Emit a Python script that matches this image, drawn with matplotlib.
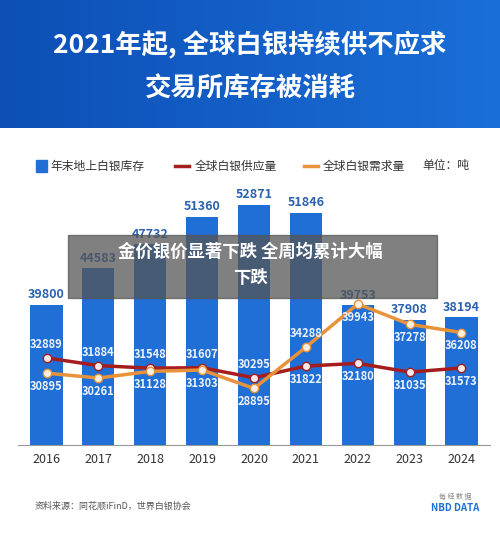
import matplotlib
matplotlib.use("Agg")
import matplotlib.pyplot as plt
from matplotlib.patches import Rectangle
from matplotlib.colors import LinearSegmentedColormap
import numpy as np

plt.rcParams['font.family'] = ['Noto Sans CJK SC', 'DejaVu Sans']

years = ['2016', '2017', '2018', '2019', '2020', '2021', '2022', '2023', '2024']
stock = [39800, 44583, 47732, 51360, 52871, 51846, 39753, 37908, 38194]
supply = [32889, 31884, 31548, 31607, 30295, 31822, 32180, 31035, 31573]
demand = [30895, 30261, 31128, 31303, 28895, 34288, 39943, 37278, 36208]
supply_pos = [1, 1, 1, 1, 1, -1, -1, -1, -1]
demand_pos = [-1, -1, -1, -1, -1, 1, -1, -1, -1]

fig = plt.figure(figsize=(5, 5.34), dpi=100)
fig.patch.set_facecolor('white')

hdr = fig.add_axes([0, 1 - 128/534, 1, 128/534])
grad = np.linspace(0, 1, 256).reshape(1, -1)
cm = LinearSegmentedColormap.from_list('h', ['#0d4fb5', '#1a6fd8'])
hdr.imshow(grad, aspect='auto', cmap=cm, extent=[0, 1, 0, 1])
hdr.set_axis_off()
hdr.text(0.5, 0.65, '2021年起, 全球白银持续供不应求', color='white', fontsize=19,
         fontweight='bold', ha='center', va='center')
hdr.text(0.5, 0.30, '交易所库存被消耗', color='white', fontsize=19,
         fontweight='bold', ha='center', va='center')

y_leg = 1 - 166/534
fig.patches.append(Rectangle((0.072, y_leg - 0.011), 0.022, 0.022, transform=fig.transFigure,
                             color='#1f6fd6'))
fig.text(0.1, y_leg, '年末地上白银库存', fontsize=8.5, va='center', color='#333333')
fig.lines.append(plt.Line2D([0.35, 0.378], [y_leg, y_leg], transform=fig.transFigure,
                            color='#a51d1d', lw=2.5))
fig.text(0.39, y_leg, '全球白银供应量', fontsize=8.5, va='center', color='#333333')
fig.lines.append(plt.Line2D([0.607, 0.635], [y_leg, y_leg], transform=fig.transFigure,
                            color='#e8923a', lw=2.5))
fig.text(0.645, y_leg, '全球白银需求量', fontsize=8.5, va='center', color='#333333')
fig.text(0.845, y_leg, '单位：吨', fontsize=8.5, va='center', color='#333333')

ax = fig.add_axes([0.036, 89/534, 0.944, 260/534])
x = np.arange(len(years))
ax.bar(x, stock, width=0.62, color='#1f6fd6', zorder=1)
ax.set_ylim(21500, 55500)
ax.set_xlim(-0.55, len(years) - 0.45)
for xi, v in zip(x, stock):
    ax.text(xi, v + 500, f'{v}', ha='center', va='bottom', fontsize=9,
            fontweight='bold', color='#2a62b0')
ax.plot(x, supply, color='#a51d1d', lw=2.5, marker='o', ms=6, mfc='#fbe9ea',
        mec='#a51d1d', mew=1, zorder=3)
ax.plot(x, demand, color='#e8923a', lw=2.5, marker='o', ms=6, mfc='#fdf0e0',
        mec='#e8923a', mew=1, zorder=3)
for vals, pos in ((supply, supply_pos), (demand, demand_pos)):
    for xi, v, p in zip(x, vals, pos):
        ax.text(xi, v + p * 900, f'{v}', ha='center', va='bottom' if p > 0 else 'top',
                fontsize=8, fontweight='bold', color='#eef3fb', zorder=4)
ax.set_xticks(x)
ax.set_xticklabels(years, fontsize=9, color='#333333')
ax.set_yticks([])
for s in ['top', 'right', 'left']:
    ax.spines[s].set_visible(False)
ax.spines['bottom'].set_color('#999999')
ax.tick_params(axis='x', length=0, pad=6)

fig.patches.append(Rectangle((68/500, 1 - 298/534), 369/500, 63/534, transform=fig.transFigure,
                             color='#555555', alpha=0.75, zorder=10))
fig.text(0.5, 1 - 252/534, '金价银价显著下跌 全周均累计大幅', color='white', fontsize=12.5,
         fontweight='bold', ha='center', va='center', zorder=11)
fig.text(0.5, 1 - 278/534, '下跌', color='white', fontsize=12.5,
         fontweight='bold', ha='center', va='center', zorder=11)

fig.text(0.07, 1 - 506/534, '资料来源：同花顺iFinD，世界白银协会', fontsize=6.5, color='#555555', va='center')
fig.text(0.91, 1 - 497/534, '每 经 数 据', fontsize=5, color='#888888', ha='center', va='center')
fig.text(0.91, 1 - 508/534, 'NBD DATA', fontsize=7, color='#1f6fd6', fontweight='bold',
         ha='center', va='center')

fig.savefig('out.png', dpi=100)
